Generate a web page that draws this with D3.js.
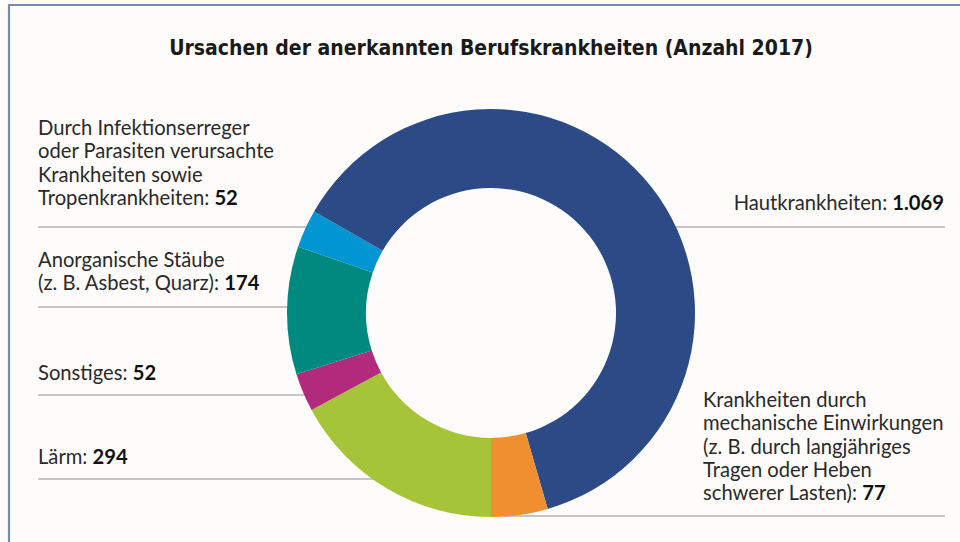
<!DOCTYPE html>
<html lang="de">
<head>
<meta charset="UTF-8">
<title>Ursachen der anerkannten Berufskrankheiten</title>
<style>
  html, body { margin: 0; padding: 0; background: #fdfcfb; }
  svg { display: block; }
  .lbl { font-family: Lato, "Noto Sans", sans-serif; font-size: 20.2px; fill: #2a2a2a; }
  .lbl .num { font-weight: bold; fill: #111; }
  .sep { stroke: #b4b4b4; stroke-width: 1.3; }
  .title { font-family: "DejaVu Sans Condensed", "DejaVu Sans", sans-serif; font-weight: bold; font-size: 21px; fill: #1a1a1a; }
</style>
</head>
<body>
<svg width="960" height="542"></svg>
<script src="https://cdn.jsdelivr.net/npm/d3@7"></script>
<script>
// Daten (clockwise from bottom)
var categories = ["Lärm", "Sonstiges", "Anorganische Stäube", "Infektionen", "Hautkrankheiten", "Mechanische Einwirkungen"];
var values = [294, 52, 174, 52, 1069, 77];
var valueLabels = ["294", "52", "174", "52", "1.069", "77"];
var colors = ["#a5c437", "#b12a7c", "#008a7f", "#0195d1", "#2c4b86", "#ef8f2f"];
// label texts, last line gets the number
var labelLines = [
  ["Lärm: "],
  ["Sonstiges: "],
  ["Anorganische Stäube", "(z. B. Asbest, Quarz): "],
  ["Durch Infektionserreger", "oder Parasiten verursachte", "Krankheiten sowie", "Tropenkrankheiten: "],
  ["Hautkrankheiten: "],
  ["Krankheiten durch", "mechanische Einwirkungen", "(z. B. durch langjähriges", "Tragen oder Heben", "schwerer Lasten): "]
];

var svg = d3.select("svg"),
    cx = 491, cy = 313,
    outerR = 204, innerR = 125;

// frame
svg.append("path")
  .attr("d", "M9,542 V5 H960")
  .attr("fill", "none")
  .attr("stroke", "#7c8aa8")
  .attr("stroke-width", 2.2);

svg.append("text")
  .attr("class", "title")
  .attr("x", 491)
  .attr("y", 55)
  .attr("text-anchor", "middle")
  .text("Ursachen der anerkannten Berufskrankheiten (Anzahl 2017)");

// label layout: side, first baseline, separator y
var layout = [
  {side: "left", y: 464, line: 479},
  {side: "left", y: 380, line: 395},
  {side: "left", y: 267, line: 307},
  {side: "left", y: 135, line: 227},
  {side: "right", y: 210, line: 227},
  {side: "left2", y: 407, line: 516}
];

// separators stop just under the ring's outer edge
var lines = svg.append("g");
layout.forEach(function(d){
  var dy = d.line - cy,
      half = Math.abs(dy) < outerR ? Math.sqrt(outerR * outerR - dy * dy) - 8 : 0;
  var x1 = d.side == "left" ? 38 : cx + half,
      x2 = d.side == "left" ? cx - half : 945;
  lines.append("line")
    .attr("class", "sep")
    .attr("x1", x1).attr("x2", x2)
    .attr("y1", d.line).attr("y2", d.line);
});

var pie = d3.pie().sort(null).startAngle(Math.PI).endAngle(3 * Math.PI);
var arc = d3.arc().innerRadius(innerR).outerRadius(outerR);

svg.append("g")
  .attr("transform", "translate(" + cx + "," + cy + ")")
  .selectAll("path")
  .data(pie(values))
  .enter()
  .append("path")
  .attr("d", arc)
  .attr("fill", function(d, i){ return colors[i]; });

var lh = 23.3;
layout.forEach(function(d, i){
  var anchor = d.side == "right" ? "end" : "start",
      x = d.side == "left" ? 38 : (d.side == "right" ? 944 : 703);
  var t = svg.append("text")
    .attr("class", "lbl")
    .attr("x", x)
    .attr("y", d.y)
    .attr("text-anchor", anchor);
  var ls = labelLines[i];
  ls.forEach(function(s, j){
    t.append("tspan").attr("x", x).attr("dy", j == 0 ? 0 : lh).text(s);
    if (j == ls.length - 1) {
      t.append("tspan").attr("class", "num").text(valueLabels[i]);
    }
  });
});
</script>
</body>
</html>
